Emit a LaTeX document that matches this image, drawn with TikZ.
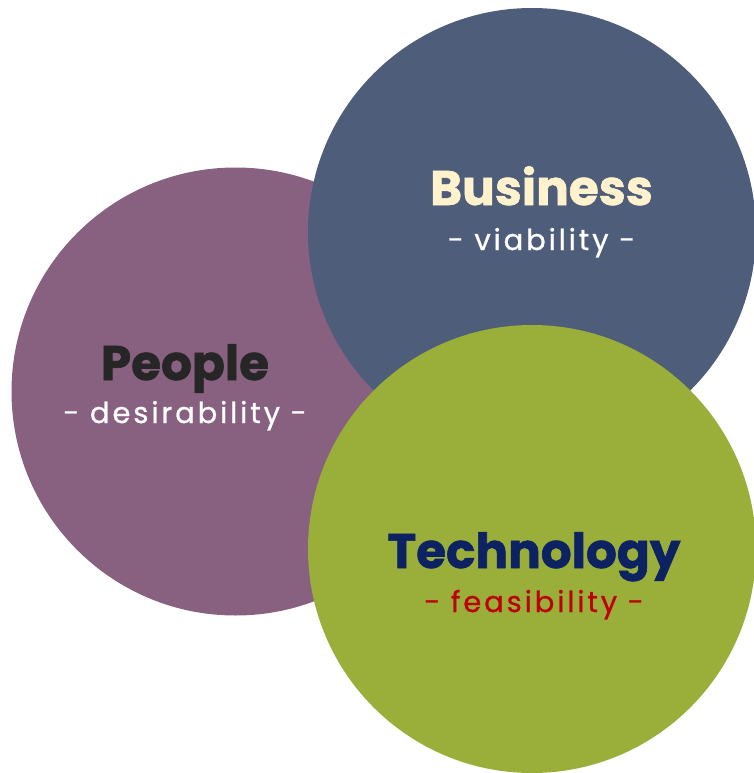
\documentclass[tikz,border=0pt]{standalone}
\usepackage{fontspec}
\setmainfont{Poppins}
\newfontfamily\subfont[LetterSpace=10,FakeBold=0.8]{Poppins}
\newfontfamily\titlefont[FakeBold=1.2]{Poppins Bold}
\definecolor{peoplec}{HTML}{886080}
\definecolor{businessc}{HTML}{4E5D7A}
\definecolor{techc}{HTML}{9AAE3A}
\definecolor{bustext}{HTML}{FFF2CC}
\definecolor{peopletext}{HTML}{262626}
\definecolor{techtext}{HTML}{0C2262}
\definecolor{feastext}{HTML}{C00000}
\tikzset{
  bubble/.style={circle, minimum size=448pt, inner sep=0pt, draw=none},
  titletext/.style={font=\titlefont\fontsize{48.5}{54}\selectfont, inner sep=0pt, anchor=base},
  subtext/.style={font=\subfont\fontsize{29}{34}\selectfont, inner sep=0pt, anchor=base}
}
\begin{document}
\begin{tikzpicture}[x=1pt,y=-1pt]
\useasboundingbox (0,0) rectangle (753,773);
\node[bubble, fill=peoplec] (people) at (235.5,391.5) {};
\node[bubble, fill=businessc] (business) at (532,232) {};
\node[bubble, fill=techc] (tech) at (532,549) {};
\node[titletext, text=bustext] (bustitle) at (541.5,205) {Business};
\node[subtext, text=white] (bussub) at (541.5,250) {- viability -};
\node[titletext, text=peopletext] (peotitle) at (185,380) {People};
\node[subtext, text=white] (peosub) at (185,423) {- desirability -};
\node[titletext, text=techtext] (techtitle) at (534,568) {Technology};
\node[subtext, text=feastext] (techsub) at (534,612) {- feasibility -};
\end{tikzpicture}
\end{document}
